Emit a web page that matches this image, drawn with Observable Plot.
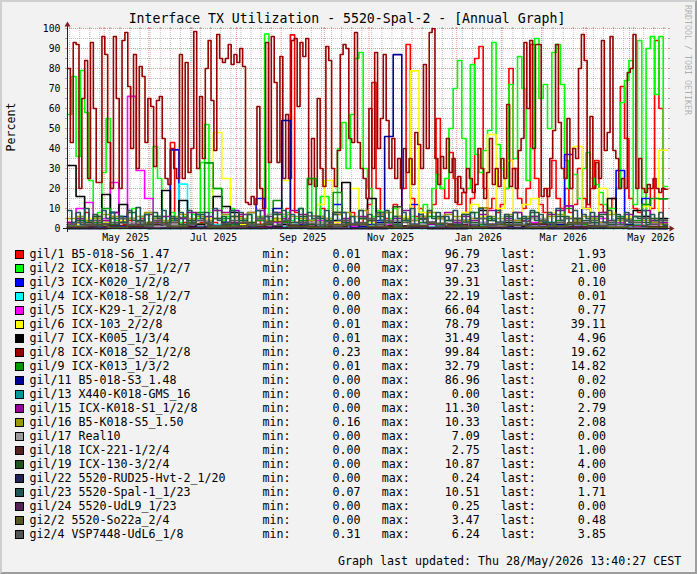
<!DOCTYPE html>
<html><head><meta charset="utf-8">
<script src="https://cdn.jsdelivr.net/npm/d3@7"></script>
<script src="https://cdn.jsdelivr.net/npm/@observablehq/plot@0.6"></script>
<style>
html,body{margin:0;padding:0;background:#f2f2f2;}
#frame{position:relative;width:697px;height:574px;overflow:hidden;background:#f2f2f2;font-family:"DejaVu Sans Mono",monospace;color:#000;}
#frame svg{position:absolute;left:0;top:0;}
.title{position:absolute;left:0;width:694px;top:11.4px;height:16px;line-height:16px;font-size:13.2px;text-align:center;white-space:pre;}
.ylab{position:absolute;left:-39px;top:119.5px;width:100px;height:14px;line-height:14px;font-size:11.65px;text-align:center;transform:rotate(-90deg);}
.water{position:absolute;left:633px;top:55px;width:110px;height:10px;line-height:10px;font-size:8.3px;color:rgba(0,0,0,0.3);transform:rotate(90deg);white-space:pre;}
.row{position:absolute;left:0;width:697px;height:14px;line-height:14px;font-size:11.65px;white-space:pre;}
.sw{position:absolute;left:15px;top:2.5px;width:9px;height:9px;box-sizing:border-box;border:1px solid #000;}
.lab{position:absolute;left:29.4px;top:0;}
.st{position:absolute;left:262.5px;top:0;}
.foot{position:absolute;right:15.7px;top:554px;height:14px;line-height:14px;font-size:11.65px;white-space:pre;}
.shade{position:absolute;left:0;top:0;width:697px;height:574px;box-sizing:border-box;border-style:solid;border-width:2px;border-color:#cfcfcf #9e9e9e #9e9e9e #cfcfcf;pointer-events:none;}
</style></head>
<body><div id="frame"></div>
<script>
// ---- data ----
const titleText = "Interface TX Utilization - 5520-Spal-2 - [Annual Graph]";
const yLabel = "Percent";
const footerText = "Graph last updated: Thu 28/May/2026 13:40:27 CEST";
const startTime = "2025-04-05T12:00:00Z";
const endTime = "2026-05-27T12:00:00Z";
const yMajor = [0,10,20,30,40,50,60,70,80,90,100];
const yMinor = [5,15,25,35,45,55,65,75,85,95];
const xLabelMonths = ["2025-05-01","2025-07-01","2025-09-01","2025-11-01","2026-01-01","2026-03-01","2026-05-01"];

const legendNames = ["gil/1 B5-018-S6_1.47","gil/2 ICX-K018-S7_1/2/7","gil/3 ICX-K020_1/2/8","gil/4 ICX-K018-S8_1/2/7","gil/5 ICX-K29-1_2/2/8","gil/6 ICX-103_2/2/8","gil/7 ICX-K005_1/3/4","gil/8 ICX-K018_S2_1/2/8","gil/9 ICX-K013_1/3/2","gil/11 B5-018-S3_1.48","gil/13 X440-K018-GMS_16","gil/15 ICX-K018-S1_1/2/8","gil/16 B5-K018-S5_1.50","gil/17 Real10","gil/18 ICX-221-1/2/4","gil/19 ICX-130-3/2/4","gil/22 5520-RUD25-Hvt-2_1/20","gil/23 5520-Spal-1_1/23","gil/24 5520-UdL9_1/23","gi2/2 5520-So22a_2/4","gi2/4 VSP7448-UdL6_1/8"];
const legendColors = ["#ff0000","#00ff00","#0000ff","#00ffff","#ff00ff","#ffff00","#000000","#990000","#009900","#000099","#009999","#990099","#999900","#999999","#552222","#225522","#222255","#225555","#552255","#555522","#555555"];
const statMin = [0.01,0.00,0.00,0.00,0.00,0.01,0.01,0.23,0.01,0.00,0.00,0.00,0.16,0.00,0.00,0.00,0.00,0.07,0.00,0.00,0.31];
const statMax = [96.79,97.23,39.31,22.19,66.04,78.79,31.49,99.84,32.79,86.96,0.00,11.30,10.33,7.09,2.75,10.87,0.24,10.51,0.25,3.47,6.24];
const statLast = [1.93,21.00,0.10,0.01,0.77,39.11,4.96,19.62,14.82,0.02,0.00,2.79,2.08,0.00,1.00,4.00,0.00,1.71,0.00,0.48,3.85];

const v_gi1_1 = [3,2,5,2,8,3,2,4,2,3, 6,2,3,2,4,2,3,5,2,3, 2,4,2,3,43,5,2,3,2,4, 2,3,5,2,3,2,4,2,3,2, 6,2,3,2,4,2,3,2,5,2, 3,10,96.79,8,3,2,4,2,3,10, 5,2,3,2,4,2,8,3,2,5, 12,73,20,8,5,3,12,6,20,92, 15,6,10,5,8,12,55,20,15,38, 25,12,18,8,15,85,91,20,10,15, 8,12,20,80,30,15,10,20,92,25, 12,8,20,34,15,10,20,8,12,30, 15,10,20,34,12,8,10,15,20,71, 45,15,10,8,12,20,10,94,60,1.93];
const v_gi1_2 = [57,76,36,79,58,24,5,8,28,55, 8,4,6,3,5,10,4,6,3,8, 41,25,6,4,8,5,3,6,4,7, 5,33,52,8,20,20,4,6,10,3, 5,4,7,3,5,6,97.23,4,5,3, 6,8,4,5,10,6,25,4,6,16, 16,5,8,40,53,30,57,85,88,30, 20,6,9,4,8,5,10,3,6,4, 6,5,8,12,6,20,27,20,25,50, 70,84,45,20,82,37,28,39,49,93, 42,30,20,72,35,86,70,24,40,95, 65,72,50,88,92,72,34,20,27,15, 30,38,25,22,18,12,10,10,20,63, 74,84,12,94,5,90,96,67,96,21];
const v_gi1_3 = [1,2,0.5,1,3,8,1,2,0.5,1, 3,2,39.31,5,1,2,0.5,1,3,1, 2,0.5,15,2,1,3,1,2,0.5,1, 3,12,2,1,0.5,2,4,1,2,0.5, 12,1,3,1,2,0.5,4,1,2,1, 3,1,2,0.5,1,4,2,1,37,2, 10,1,3,2,29,4,1,15,3,0.1];
const v_gi1_4 = [0.5,1,0.3,2,0.5,1,3,0.5,1,0.3, 2,1,0.5,22.19,3,1,0.5,2,0.3,1, 0.5,2,1,0.3,0.5,1,2,0.5,0.3,1, 0.5,2,1,0.3,0.5,1,2,0.5,1,0.3, 0.5,2,1,0.5,0.3,1,0.5,2,1,0.3, 0.5,1,2,0.5,0.3,1,3,0.5,1,0.3, 2,0.5,1,0.3,0.5,1,2,0.5,0.3,0.01];
const v_gi1_5 = [2,10,13,3,5,23,4,66.04,29,15, 3,2,4,1,3,2,5,1,2,3, 1,2,4,1,3,2,1,3,2,4, 1,2,3,1,2,4,1,2,3,1, 2,1,3,2,1,4,2,1,3,2, 1,2,4,1,3,2,1,4,2,3, 1,2,5,1,3,2,1,6,2,0.77];
const v_gi1_6 = [1,2,5,1,3,2,4,1,2,3, 1,2,4,1,3,2,5,48,25,6, 2,3,1,2,4,24,3,1,2,12, 24,3,2,20,5,3,2,4,1,6, 78.79,8,3,5,2,4,8,12,6,47, 10,34,8,12,15,5,8,3,6,41, 10,5,20,8,4,6,3,11,5,39.11];
const v_gi1_7 = [31.49,16,3,1,17,2,12,1,3,2, 1,19,2,14,1,2,3,16,11,8, 1,2,1,3,1,2,1,3,2,1, 2,4,23,2,1,15,2,1,3,1, 2,1,3,2,1,2,4,1,9,2, 1,3,2,1,2,3,1,2,1,4, 2,1,3,15,2,4,9,6,3,4.96];
const v_gi1_8 = [80,43,93,92,20,65,84,25,93,60, 23,23,96,87,43,20,96,65,20,94, 98,71,40,87,30,81,76,43,65,61, 31,64,66,45,25,22,40,30,25,87, 25,83,28,40,98.5,30,66,35,80,94, 64,39,97,85,83,85,92,82,87,83, 90,81,13,12,16,12,61,20,10,93, 33,96,73,33,86,25,57,25,94,95, 61,93,86,95,22,45,21,65,30,21, 91,84,30,21,39,87,92,90,45,43, 98,43,30,25,15,60,30,88,40,55, 87,54,30,45,25,35,20,40,28,35, 22,48,42,30,82,40,98,99.84,35,22, 36,30,45,28,35,13,26,20,18,30, 25,18,22,40,30,15,28,45,22,30, 21,35,25,62,21,30,20,39,45,93, 60,94,40,92,92,16,20,16,35,49, 92,53,30,25,55,20,40,35,80,97, 84,12,56,20,33,25,94,39,48,96, 39,35,20,25,20,78,80,97,20,35, 20,18,22,20,25,20,18,20,19.62];
const v_gi1_9 = [2,4,1,3,10,2,5,1,3,2, 6,1,4,2,3,8,32.79,20,5,2, 3,1,4,2,14,3,1,4,25,3, 2,18,4,2,5,1,8,3,2,4, 1,3,6,2,4,1,3,8,2,5, 3,1,4,2,6,3,1,4,10,3, 2,5,1,3,6,2,4,12,15,14.82];
const v_gi1_11 = [0.5,1,0.3,2,0.5,1,6,0.5,1,0.3, 2,0.5,1,0.3,2,0.5,1,0.3,3,0.5, 1,0.3,2,0.5,10,54,1,0.5,2,0.3, 1,0.5,2,0.3,1,0.5,3,46,86.96,1, 0.5,2,0.3,1,0.5,2,0.3,1,0.5,2, 0.3,1,0.5,2,0.3,1,0.5,2,0.3,1, 0.5,2,0.3,1,0.5,2,0.3,1,0.5,0.02];
const v_gi1_13 = [0,0,0,0,0,0,0,0,0,0];
const v_gi1_15 = [3,5,2,6,4,8,3,5,2,7, 4,6,3,5,8,4,6,9,8,9, 7,8,9,6,8,5,9,7,4,6, 3,8,5,2,6,4,7,3,5,9, 4,6,2,5,8,3,6,4,7,9, 3,5,8,4,6,2,7,9,11.3,5, 3,6,8,4,5,7,3,9,4,2.79];
const v_gi1_16 = [5,6,4,5,7,6,3,5,6,8, 5,4,6,7,5,6,4,5,7,6, 5,8,6,4,5,7,6,5,4,6, 5,7,8,6,9,5,7,8,6,5, 4,6,8,5,7,6,4,5,10.33,6, 5,7,4,6,5,3,6,7,5,4, 6,5,3,7,4,5,6,4,3,2.08];
const v_gi1_17 = [1,2,0.5,3,1,2,4,1,0.5,2, 7.09,1,3,0.5,2,1,4,2,0.5,1, 3,1,2,5,1,0.5,2,1,0.5,0];
const v_gi1_18 = [0.5,1,1.5,0.8,2,1,0.6,1.2,2.75,1, 0.5,1.5,0.8,1,2,0.7,1.3,1,0.5,1.8, 1,0.6,1.5,2.2,1,0.8,1.2,0.5,1.5,1];
const v_gi1_19 = [2,4,3,6,2,5,3,8,4,2, 6,3,5,2,4,7,3,5,2,6, 4,3,5,2,7,4,3,6,2,5, 4,8,3,2,5,4,6,3,10.87,4, 2,5,3,6,4,2,7,3,5,4, 2,6,3,5,8,4,3,6,2,5, 4,3,7,2,5,4,6,3,5,4];
const v_gi1_22 = [0.05,0.1,0.02,0.15,0.05,0.24,0.08,0.03,0.1,0.05,0.12,0.02,0.06,0.1,0];
const v_gi1_23 = [9,3,8,2,10,4,7,1,9,5, 8,2,6,3,9,4,10.51,2,7,3, 8,5,9,2,6,4,8,1,9,3, 7,5,8,2,10,4,6,3,9,2, 8,4,7,1,9,5,6,3,8,2, 9,4,7,3,10,2,8,5,6,1, 9,3,7,4,8,2,6,3,9,5, 7,2,8,4,9,3,6,1,8,4, 10,2,7,3,9,5,8,2,6,4, 9,1,7,3,8,5,10,2,6,4, 9,3,7,2,8,5,6,1,9,4, 7,3,8,2,10,4,6,3,9,2, 7,5,8,1,6,3,9,4,7,2, 8,3,6,5,9,2,7,4,8,1.71];
const v_gi1_24 = [0.05,0.1,0.2,0.05,0.25,0.1,0.02,0.08,0.15,0.05,0.1,0.2,0.05,0.1,0];
const v_gi2_2 = [1,2,0.5,1.5,3,1,2.5,0.8,1.2,2, 3.47,1,0.6,1.8,2.2,1,0.5,1.4,2.6,1, 0.8,2,1.5,0.7,1.2,2.8,1,0.6,1.5,0.48];
const v_gi2_4 = [2,3,1.5,4,2.5,3,5,2,3.5,1, 4,2,3,5.5,2,4,3,1.5,2.5,4, 3,2,5,3,1.5,4,2,3,6.24,2, 3.5,1,4,2.5,3,5,2,4,1.5,3, 2,4.5,3,1,2.5,4,3,2,5,1.5, 3,4,2,3.5,1,4,2.5,3,5,2, 3,4,1.5,3,2,4,3,5,2,3.85];

const seriesValues = [v_gi1_1,v_gi1_2,v_gi1_3,v_gi1_4,v_gi1_5,v_gi1_6,v_gi1_7,v_gi1_8,v_gi1_9,v_gi1_11,v_gi1_13,v_gi1_15,v_gi1_16,v_gi1_17,v_gi1_18,v_gi1_19,v_gi1_22,v_gi1_23,v_gi1_24,v_gi2_2,v_gi2_4];

// ---- build ----
const t0 = new Date(startTime), t1 = new Date(endTime);
const span = t1 - t0;
const rows = [];
seriesValues.forEach((vals, s) => {
  const n = vals.length;
  vals.forEach((v, i) => rows.push({s, t: new Date(+t0 + i * span / n), v}));
  rows.push({s, t: t1, v: vals[n - 1]});
});
const monthGrid = d3.utcMonth.range(t0, t1);
const weekGrid = d3.utcMonday.range(t0, t1).filter(d => d.getUTCDate() !== 1);
const labelDates = xLabelMonths.map(m => d3.utcDay.offset(new Date(m + "T00:00:00Z"), 15));

const arrowRight = {draw(ctx) { ctx.moveTo(2, -3); ctx.lineTo(2, 3); ctx.lineTo(7, 0); ctx.closePath(); }};
const arrowUp = {draw(ctx) { ctx.moveTo(-3, -2); ctx.lineTo(3, -2); ctx.lineTo(0, -7); ctx.closePath(); }};

const minorC = "#8f8f8f", majorC = "#de4f4f";
const tickOnly = {tickSize: 2, text: null, label: null};
const marks = [
  Plot.frame({fill: "white", stroke: null}),
  Plot.gridY(yMinor, {stroke: minorC, strokeOpacity: 0.55, strokeDasharray: "1,1"}),
  Plot.gridX(weekGrid, {stroke: minorC, strokeOpacity: 0.55, strokeDasharray: "1,1"}),
  Plot.gridY(yMajor.slice(1), {stroke: majorC, strokeOpacity: 0.6, strokeDasharray: "1,1"}),
  Plot.gridX(monthGrid, {stroke: majorC, strokeOpacity: 0.6, strokeDasharray: "1,1"}),
  Plot.axisY(yMinor, {anchor: "left", stroke: minorC, strokeOpacity: 0.75, ...tickOnly}),
  Plot.axisY(yMinor, {anchor: "right", stroke: minorC, strokeOpacity: 0.75, ...tickOnly}),
  Plot.axisY(yMajor, {anchor: "left", stroke: majorC, strokeOpacity: 0.6, ...tickOnly}),
  Plot.axisY(yMajor, {anchor: "right", stroke: majorC, strokeOpacity: 0.6, ...tickOnly}),
  Plot.axisX(weekGrid, {anchor: "bottom", stroke: minorC, strokeOpacity: 0.75, ...tickOnly}),
  Plot.axisX(weekGrid, {anchor: "top", stroke: minorC, strokeOpacity: 0.75, ...tickOnly}),
  Plot.axisX(monthGrid, {anchor: "bottom", stroke: majorC, strokeOpacity: 0.6, ...tickOnly}),
  Plot.axisX(monthGrid, {anchor: "top", stroke: majorC, strokeOpacity: 0.6, ...tickOnly}),
  ...seriesValues.map((_, s) => Plot.line(rows.filter(r => r.s === s), {
    x: "t", y: "v", stroke: legendColors[s], strokeWidth: 1.6, curve: "step-after"
  })),
  Plot.ruleY([0], {stroke: "#1f1f1f", insetLeft: -4, insetRight: -4}),
  Plot.ruleX([t0], {stroke: "#1f1f1f", insetTop: -4, insetBottom: -4}),
  Plot.dot([t1], {x: d => d, y: () => 0, symbol: arrowRight, r: 3, fill: "#801f1f", stroke: null}),
  Plot.dot([t0], {x: d => d, y: () => 100, symbol: arrowUp, r: 3, fill: "#801f1f", stroke: null}),
  Plot.axisY(yMajor, {anchor: "left", tickSize: 0, tickPadding: 7, fill: "#000", label: null}),
  Plot.axisX(labelDates, {anchor: "bottom", tickSize: 0, tickPadding: 6, fill: "#000", tickFormat: d3.utcFormat("%b %Y"), label: null})
];

const chart = Plot.plot({
  width: 697, height: 250,
  marginLeft: 67, marginRight: 30, marginTop: 28, marginBottom: 22,
  x: {type: "utc", domain: [t0, t1], axis: null, label: null},
  y: {domain: [0, 100], axis: null, label: null},
  style: {background: "transparent", fontFamily: "DejaVu Sans Mono", fontSize: "9.8px", color: "#000", overflow: "visible"},
  marks
});

const frame = document.getElementById("frame");
frame.appendChild(chart);

function el(cls, text, css) {
  const d = document.createElement("div");
  d.className = cls;
  if (text != null) d.textContent = text;
  if (css) Object.assign(d.style, css);
  return d;
}
frame.appendChild(el("title", titleText));
frame.appendChild(el("ylab", yLabel));
frame.appendChild(el("water", "RRDTOOL / TOBI OETIKER"));
const pad = (x, w) => x.toFixed(2).padStart(w, " ");
legendNames.forEach((name, i) => {
  const row = el("row", null, {top: (247.3 + 14 * i) + "px"});
  row.appendChild(el("sw", null, {background: legendColors[i]}));
  row.appendChild(el("lab", name));
  row.appendChild(el("st", "min:" + pad(statMin[i], 10) + "   max:" + pad(statMax[i], 10) + "   last:" + pad(statLast[i], 10)));
  frame.appendChild(row);
});
frame.appendChild(el("foot", footerText));
frame.appendChild(el("shade"));
</script>
</body></html>
